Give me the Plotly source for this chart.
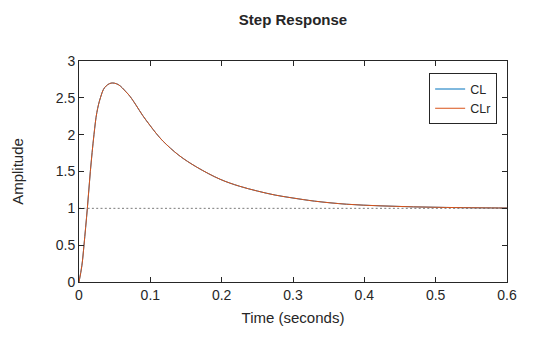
import plotly.graph_objects as go

# Time samples (s) and step-response amplitudes
time_s = [0, 0.004, 0.007, 0.0117, 0.0159, 0.021, 0.025, 0.030, 0.036, 0.045,
          0.055, 0.066, 0.0715, 0.08, 0.0893, 0.1, 0.108, 0.118, 0.14, 0.165,
          0.1977, 0.225, 0.25, 0.275, 0.3, 0.33, 0.375, 0.422, 0.469, 0.515,
          0.562, 0.6]
cl_amp = [0, 0.22, 0.5, 1.0, 1.5, 2.0, 2.3, 2.5, 2.64, 2.70,
          2.68, 2.58, 2.52, 2.40, 2.26, 2.12, 2.02, 1.91, 1.72, 1.56,
          1.395, 1.30, 1.235, 1.18, 1.14, 1.098, 1.056, 1.034, 1.02, 1.012,
          1.007, 1.004]
clr_amp = list(cl_amp)

steady_x = [0, 0.6]
steady_y = [1, 1]

x_ticks = [0, 0.1, 0.2, 0.3, 0.4, 0.5, 0.6]
y_ticks = [0, 0.5, 1, 1.5, 2, 2.5, 3]

TXT = "#262626"
FONT = "Liberation Sans, Arial, sans-serif"

fig = go.Figure()
fig.add_trace(go.Scatter(x=steady_x, y=steady_y, mode="lines",
                         line=dict(color="#7a7a7a", width=1, dash="2px,2.3px"),
                         showlegend=False, hoverinfo="skip"))
fig.add_trace(go.Scatter(x=time_s, y=cl_amp, mode="lines", name="CL",
                         line=dict(color="#0072BD", width=1, shape="spline")))
fig.add_trace(go.Scatter(x=time_s, y=clr_amp, mode="lines", name="CLr",
                         line=dict(color="#D95319", width=1, shape="spline")))

axis_common = dict(showline=True, linecolor=TXT, linewidth=1, mirror="ticks",
                   ticks="inside", ticklen=5, tickcolor=TXT, showgrid=False,
                   zeroline=False, tickfont=dict(size=14, color=TXT, family=FONT))

fig.update_layout(
    width=560, height=337,
    margin=dict(l=79, r=53, t=61, b=55),
    paper_bgcolor="white", plot_bgcolor="white",
    font=dict(family=FONT, color=TXT),
    title=dict(text="<b>Step Response</b>", x=0.5, xref="paper", xanchor="center",
               y=1 - 20 / 337, yref="container", yanchor="middle",
               font=dict(size=15, color=TXT, family=FONT)),
    xaxis=dict(range=[0, 0.6], tickvals=x_ticks,
               ticktext=[f"{v:g}" for v in x_ticks],
               title=dict(text="Time (seconds)", font=dict(size=15, color=TXT), standoff=10),
               **axis_common),
    yaxis=dict(range=[0, 3], tickvals=y_ticks,
               ticktext=[f"{v:g}" for v in y_ticks],
               title=dict(text="Amplitude", font=dict(size=15, color=TXT), standoff=28),
               **axis_common),
    legend=dict(x=0.977, xanchor="right", y=0.944, yanchor="top",
                bordercolor=TXT, borderwidth=1, bgcolor="white",
                font=dict(size=12.5, color=TXT, family=FONT),
                tracegroupgap=0, itemwidth=30),
    showlegend=True,
)

fig.write_html("out.html")
